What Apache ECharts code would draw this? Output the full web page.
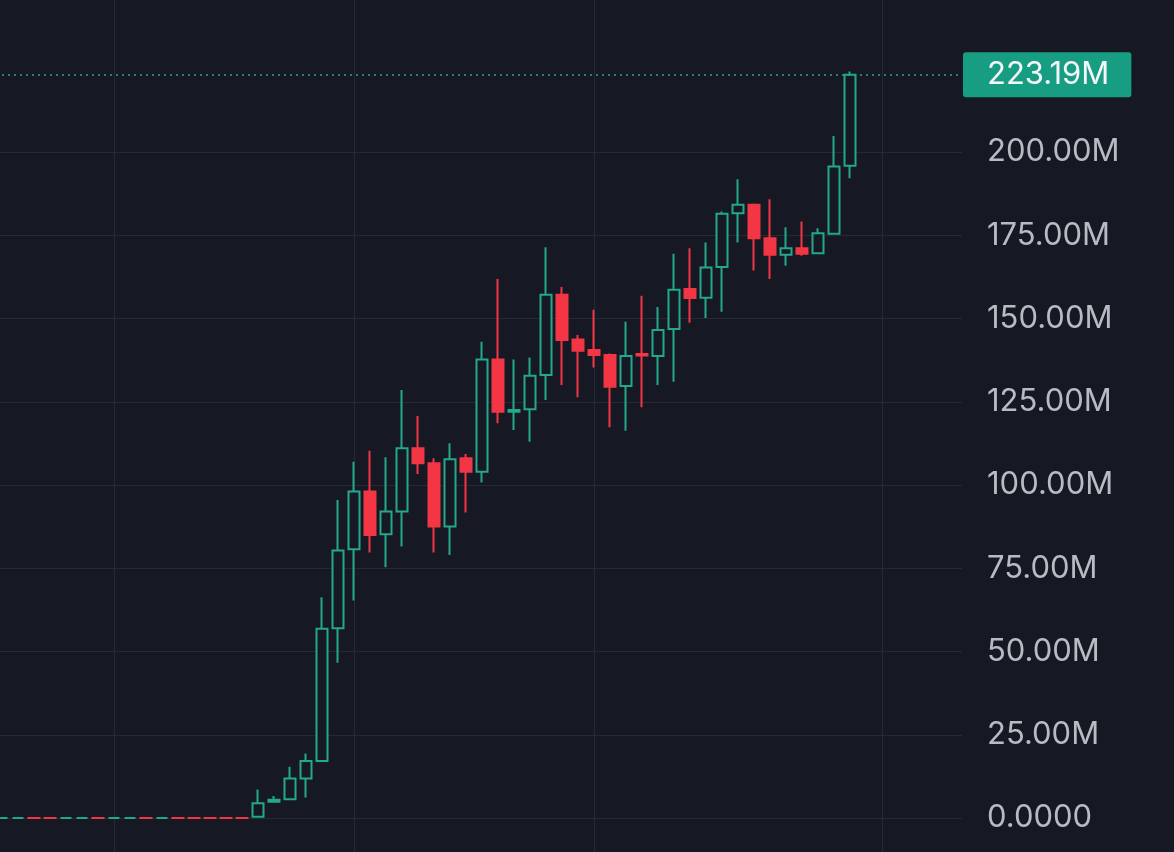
<!DOCTYPE html>
<html>
<head>
<meta charset="utf-8">
<script src="https://cdn.jsdelivr.net/npm/echarts@6/dist/echarts.min.js"></script>
<style>
  html, body { margin: 0; padding: 0; background: #161823; }
  #main { width: 1174px; height: 852px; }
</style>
</head>
<body>
<div id="main"></div>
<script>
// values in millions; first 16 are flat (zero) candles, red ones have open just above close
var opens = [0, 0, 0.001, 0.001, 0, 0, 0.001, 0, 0, 0.001, 0, 0.001, 0.001, 0.001, 0.001, 0.001,
  0.4, 4.9, 5.6, 11.9, 17.1, 57.0, 80.7, 98.0, 85.2, 92.0, 111.0, 106.5, 87.5, 108.0,
  104.0, 137.7, 122.0, 122.7, 133.0, 157.1, 143.7, 140.5, 139.0, 129.7, 139.3, 138.7,
  146.8, 158.8, 156.2, 165.4, 181.6, 184.1, 174.1, 169.1, 171.1, 169.6, 175.4, 195.8]
var closes = [0, 0, 0, 0, 0, 0, 0, 0, 0, 0, 0, 0, 0, 0, 0, 0,
  4.4, 5.5, 11.9, 17.1, 56.8, 80.3, 98.0, 85.0, 92.0, 111.0, 106.5, 87.5, 107.7, 104.0,
  137.7, 122.0, 122.5, 132.8, 157.1, 143.5, 140.3, 139.0, 129.5, 138.7, 138.9, 146.5,
  158.6, 156.1, 165.3, 181.4, 184.1, 174.1, 169.1, 171.1, 169.4, 175.6, 195.6, 223.19]
var lows = [0, 0, 0, 0, 0, 0, 0, 0, 0, 0, 0, 0, 0, 0, 0, 0,
  0.2, 4.7, 5.4, 6.2, 16.9, 46.6, 65.3, 79.7, 75.3, 81.5, 103.3, 79.7, 79.0, 91.7,
  100.7, 118.5, 116.5, 113.0, 125.5, 130.0, 126.3, 135.3, 117.3, 116.3, 123.3, 130.0,
  131.0, 148.7, 150.1, 152.0, 172.8, 164.4, 161.8, 165.8, 168.8, 169.6, 175.2, 192.1]
var highs = [0, 0, 0.001, 0.001, 0, 0, 0.001, 0, 0, 0.001, 0, 0.001, 0.001, 0.001, 0.001, 0.001,
  8.6, 6.6, 15.4, 19.4, 66.3, 95.5, 107.0, 110.3, 108.3, 128.5, 120.7, 108.0, 112.5, 109.3,
  143.0, 161.8, 137.7, 138.3, 171.4, 159.4, 145.0, 152.6, 139.5, 149.0, 156.8, 153.4,
  169.4, 171.1, 172.8, 182.1, 191.8, 184.5, 185.8, 177.4, 179.1, 177.1, 204.8, 224.1]
var lastPrice = 223.19
var slotCount = 61          // candle slots incl. empty space on the right
var vGridSlots = [7, 22, 37, 55]
var yTicks = { min: 0, max: 200, step: 25 }

var cats = []
for (var i = 0; i < slotCount; i++) cats.push(String(i))
var candles = opens.map(function (o, i) {
  return [o, closes[i], lows[i], highs[i]]
})

var green = '#22a88b'
var red = '#f23645'
var gridColor = '#262a37'

function fmt(v) {
  if (v === 0) return '0.0000'
  return v.toFixed(2) + 'M'
}

var myChart = echarts.init(document.getElementById('main'))
var option = {
  backgroundColor: '#161823',
  animation: false,
  grid: [
    { left: 2, right: 212, top: 0, bottom: 0 },
    { left: 0, right: 212, top: 152, bottom: 34 }
  ],
  xAxis: [
    {
      type: 'category', gridIndex: 0, data: cats, boundaryGap: false,
      axisLine: { show: false }, axisTick: { show: false }, axisLabel: { show: false },
      splitLine: {
        show: true,
        interval: function (idx) { return vGridSlots.indexOf(idx) >= 0 },
        lineStyle: { color: gridColor, width: 1 }
      }
    },
    {
      type: 'category', gridIndex: 1, data: cats, boundaryGap: false, show: false
    }
  ],
  yAxis: [
    {
      type: 'value', gridIndex: 0, min: -10.2, max: 245.6, show: false,
      splitLine: { show: false }
    },
    {
      type: 'value', gridIndex: 1, position: 'right',
      min: yTicks.min, max: yTicks.max, interval: yTicks.step,
      axisLine: { show: false }, axisTick: { show: false },
      splitLine: { show: true, lineStyle: { color: gridColor, width: 1 } },
      axisLabel: {
        margin: 25, align: 'left', color: '#b8bbc3', fontSize: 31,
        fontFamily: 'Inter', formatter: fmt
      }
    }
  ],
  series: [
    {
      type: 'candlestick',
      xAxisIndex: 0, yAxisIndex: 0,
      data: candles,
      barWidth: 11,
      clip: false,
      itemStyle: {
        color: '#161823', color0: red,
        borderColor: green, borderColor0: red,
        borderWidth: 2
      },
      emphasis: { disabled: true },
      markLine: {
        silent: true,
        symbol: ['none', 'none'],
        lineStyle: { color: green, type: [2, 4], width: 1.5 },
        label: {
          show: true, position: 'end', distance: 1,
          formatter: fmt(lastPrice),
          color: '#f4f6f8', fontSize: 31, fontFamily: 'Inter',
          backgroundColor: '#179e82', borderRadius: 3,
          padding: [7, 22, 7, 24]
        },
        data: [{ yAxis: lastPrice }]
      }
    }
  ]
}
myChart.setOption(option)
</script>
</body>
</html>
